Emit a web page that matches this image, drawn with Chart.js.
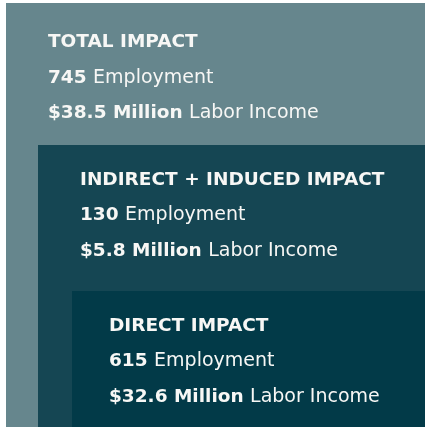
<!DOCTYPE html>
<html>
<head>
<meta charset="utf-8">
<script src="https://cdn.jsdelivr.net/npm/chart.js@4.4.1/dist/chart.umd.min.js"></script>
<style>
    html, body { margin: 0; padding: 0; background: #ffffff; }
    #wrap { width: 425px; height: 427px; position: relative; }
</style>
</head>
<body>
<div id="wrap"><canvas id="impactChart"></canvas></div>
<script>
// Data
const levels = ['TOTAL IMPACT', 'INDIRECT + INDUCED IMPACT', 'DIRECT IMPACT'];
const employment = [745, 130, 615];
const laborIncome = [38.5, 5.8, 32.6]; // $ million
const panelColors = ['#66868d', '#154653', '#023a48'];

// Layout of the nested panels (pixels)
const layout = {
    left: [6, 38, 72],
    top: [3, 145, 291],
    textX: [42, 42, 37],
    titleY: [39.5, 35, 35],
    lineGap: 35.5,
    boldSize: 18.5,
    size: 19,
    font: '"DejaVu Sans", sans-serif'
};

const nestedPanels = {
    id: 'nestedPanels',
    afterDraw(chart) {
        const ctx = chart.ctx;
        const W = chart.width, H = chart.height;
        const bold = `bold ${layout.boldSize}px ${layout.font}`;
        const regular = `${layout.size}px ${layout.font}`;
        ctx.save();
        levels.forEach((name, i) => {
            const x = layout.left[i], y = layout.top[i];
            ctx.fillStyle = panelColors[i];
            ctx.fillRect(x, y, W - x, H - y);

            const tx = x + layout.textX[i];
            const ty = y + layout.titleY[i];
            ctx.textBaseline = 'middle';
            ctx.textAlign = 'left';
            ctx.fillStyle = '#f7f7f5';

            ctx.font = bold;
            ctx.fillText(name, tx, ty);

            // employment line
            const emp = String(employment[i]);
            ctx.font = bold;
            ctx.fillText(emp, tx, ty + layout.lineGap);
            let w = ctx.measureText(emp + ' ').width;
            ctx.font = regular;
            ctx.fillText('Employment', tx + w, ty + layout.lineGap);

            // labor income line
            const inc = `$${laborIncome[i].toFixed(1)} Million`;
            ctx.font = bold;
            ctx.fillText(inc, tx, ty + layout.lineGap * 2);
            w = ctx.measureText(inc + ' ').width;
            ctx.font = regular;
            ctx.fillText('Labor Income', tx + w, ty + layout.lineGap * 2);
        });
        ctx.restore();
    }
};

new Chart(document.getElementById('impactChart').getContext('2d'), {
    type: 'bar',
    data: {
        labels: levels,
        datasets: [{ label: 'Employment', data: employment, backgroundColor: 'rgba(0,0,0,0)' }]
    },
    options: {
        responsive: true,
        maintainAspectRatio: false,
        animation: false,
        layout: { padding: 0 },
        plugins: { legend: { display: false }, tooltip: { enabled: false } },
        scales: { x: { display: false }, y: { display: false } }
    },
    plugins: [nestedPanels]
});
</script>
</body>
</html>
